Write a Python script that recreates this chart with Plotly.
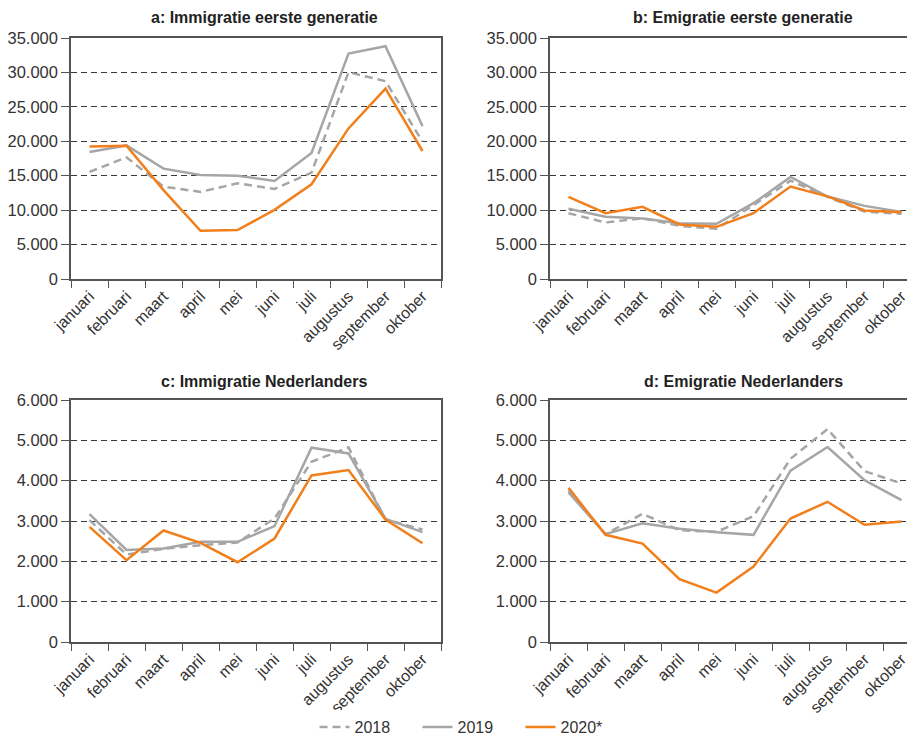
import plotly.graph_objects as go

months = ["januari", "februari", "maart", "april", "mei", "juni", "juli",
          "augustus", "september", "oktober"]

# a: Immigratie eerste generatie
a_2018 = [15550, 17670, 13420, 12650, 13900, 13080, 15450, 30030, 28730, 19940]
a_2019 = [18440, 19400, 16030, 15110, 15000, 14240, 18300, 32730, 33800, 22200]
a_2020 = [19250, 19350, 12900, 7000, 7100, 10040, 13760, 21870, 27660, 18590]

# b: Emigratie eerste generatie
b_2018 = [9560, 8210, 8830, 7720, 7290, 10720, 14290, 11920, 9800, 9460]
b_2019 = [10190, 9030, 8790, 8110, 8010, 11010, 14820, 11970, 10620, 9750]
b_2020 = [11925, 9560, 10480, 7920, 7580, 9560, 13420, 12000, 9950, 9700]

# c: Immigratie Nederlanders
c_2018 = [3020, 2168, 2309, 2400, 2466, 3062, 4469, 4825, 3037, 2789]
c_2019 = [3170, 2284, 2317, 2483, 2483, 2872, 4817, 4676, 3054, 2723]
c_2020 = [2855, 2028, 2764, 2458, 1978, 2566, 4130, 4262, 3037, 2450]

# d: Emigratie Nederlanders
d_2018 = [3766, 2673, 3178, 2772, 2731, 3120, 4543, 5280, 4237, 3931]
d_2019 = [3708, 2673, 2946, 2806, 2723, 2657, 4246, 4833, 4014, 3517]
d_2020 = [3823, 2657, 2441, 1556, 1225, 1870, 3062, 3476, 2905, 2988]

titles = ["a: Immigratie eerste generatie", "b: Emigratie eerste generatie",
          "c: Immigratie Nederlanders", "d: Emigratie Nederlanders"]
series_names = ["2018", "2019", "2020*"]

panels = [
    (a_2018, a_2019, a_2020),
    (b_2018, b_2019, b_2020),
    (c_2018, c_2019, c_2020),
    (d_2018, d_2019, d_2020),
]

OFF = 8  # page body margin
W, H = 915 - OFF, 737 - OFF
GRAY = "#a6a6a6"
ORANGE = "#f07f1c"
FONT = "Liberation Sans"

# pixel geometry of panels in window coords (left, right, top, bottom)
geo = [
    (71, 441, 38, 279),
    (550, 915, 38, 279),
    (71, 441, 400, 642),
    (550, 915, 400, 642),
]
yranges = [(0, 35000, 5000), (0, 35000, 5000), (0, 6000, 1000), (0, 6000, 1000)]


def px(x):
    return (x - OFF) / W


def py(y):
    return 1 - (y - OFF) / H


fig = go.Figure()
styles = [
    dict(color=GRAY, width=2.5, dash="8px,5px"),
    dict(color=GRAY, width=2.5),
    dict(color=ORANGE, width=2.5),
]

layout = {}
for i, (vals, (l, r, t, b), (y0, y1, dy)) in enumerate(zip(panels, geo, yranges)):
    n = "" if i == 0 else str(i + 1)
    for j, v in enumerate(vals):
        fig.add_trace(go.Scatter(
            x=months, y=v, mode="lines", name=series_names[j],
            line=styles[j], showlegend=(i == 0),
            xaxis="x" + n, yaxis="y" + n,
        ))
    cat_w = 37.0
    xmax = min(-0.5 + (r - l) / cat_w, 9.5)
    layout["xaxis" + n] = dict(
        domain=[px(l), px(r)], anchor="y" + n, type="category",
        range=[-0.5, xmax], tickson="boundaries", ticks="outside",
        ticklen=7, tickcolor="#555", tickwidth=1.2,
        showline=True, linecolor="#555", linewidth=1.5, mirror=True,
        showgrid=False, tickangle=-45, automargin=False,
        tickfont=dict(family=FONT, size=16, color="#333"),
    )
    layout["yaxis" + n] = dict(
        domain=[py(b), py(t)], anchor="x" + n,
        range=[y0, y1], dtick=dy, tick0=0, tickformat=",d",
        ticks="outside", ticklen=8, tickcolor="#555", tickwidth=1.2,
        showline=True, linecolor="#555", linewidth=1.5,
        mirror=(i in (0, 2)), automargin=False,
        showgrid=True, gridcolor="#3a3a3a", griddash="6px,4px", gridwidth=1.1,
        zeroline=False,
        tickfont=dict(family=FONT, size=16.5, color="#333"),
    )

annotations = []
title_y = [17, 17, 381, 381]
for i, (l, r, t, b) in enumerate(geo):
    cx = l + (441 - 71) / 2 + 8
    annotations.append(dict(
        text="<b>" + titles[i] + "</b>", x=px(cx), y=py(title_y[i]),
        xref="paper", yref="paper", xanchor="center", yanchor="middle",
        showarrow=False, font=dict(family=FONT, size=16, color="#222"),
    ))

fig.update_layout(
    width=W, height=H, margin=dict(l=0, r=0, t=0, b=0, autoexpand=False),
    paper_bgcolor="white", plot_bgcolor="white",
    separators=",.",
    annotations=annotations,
    legend=dict(orientation="h", x=px(469), xanchor="center", y=py(727),
                yanchor="middle", entrywidth=58, entrywidthmode="pixels",
                font=dict(family=FONT, size=16, color="#333"),
                traceorder="normal"),
    **layout,
)

fig.write_html("out.html")
